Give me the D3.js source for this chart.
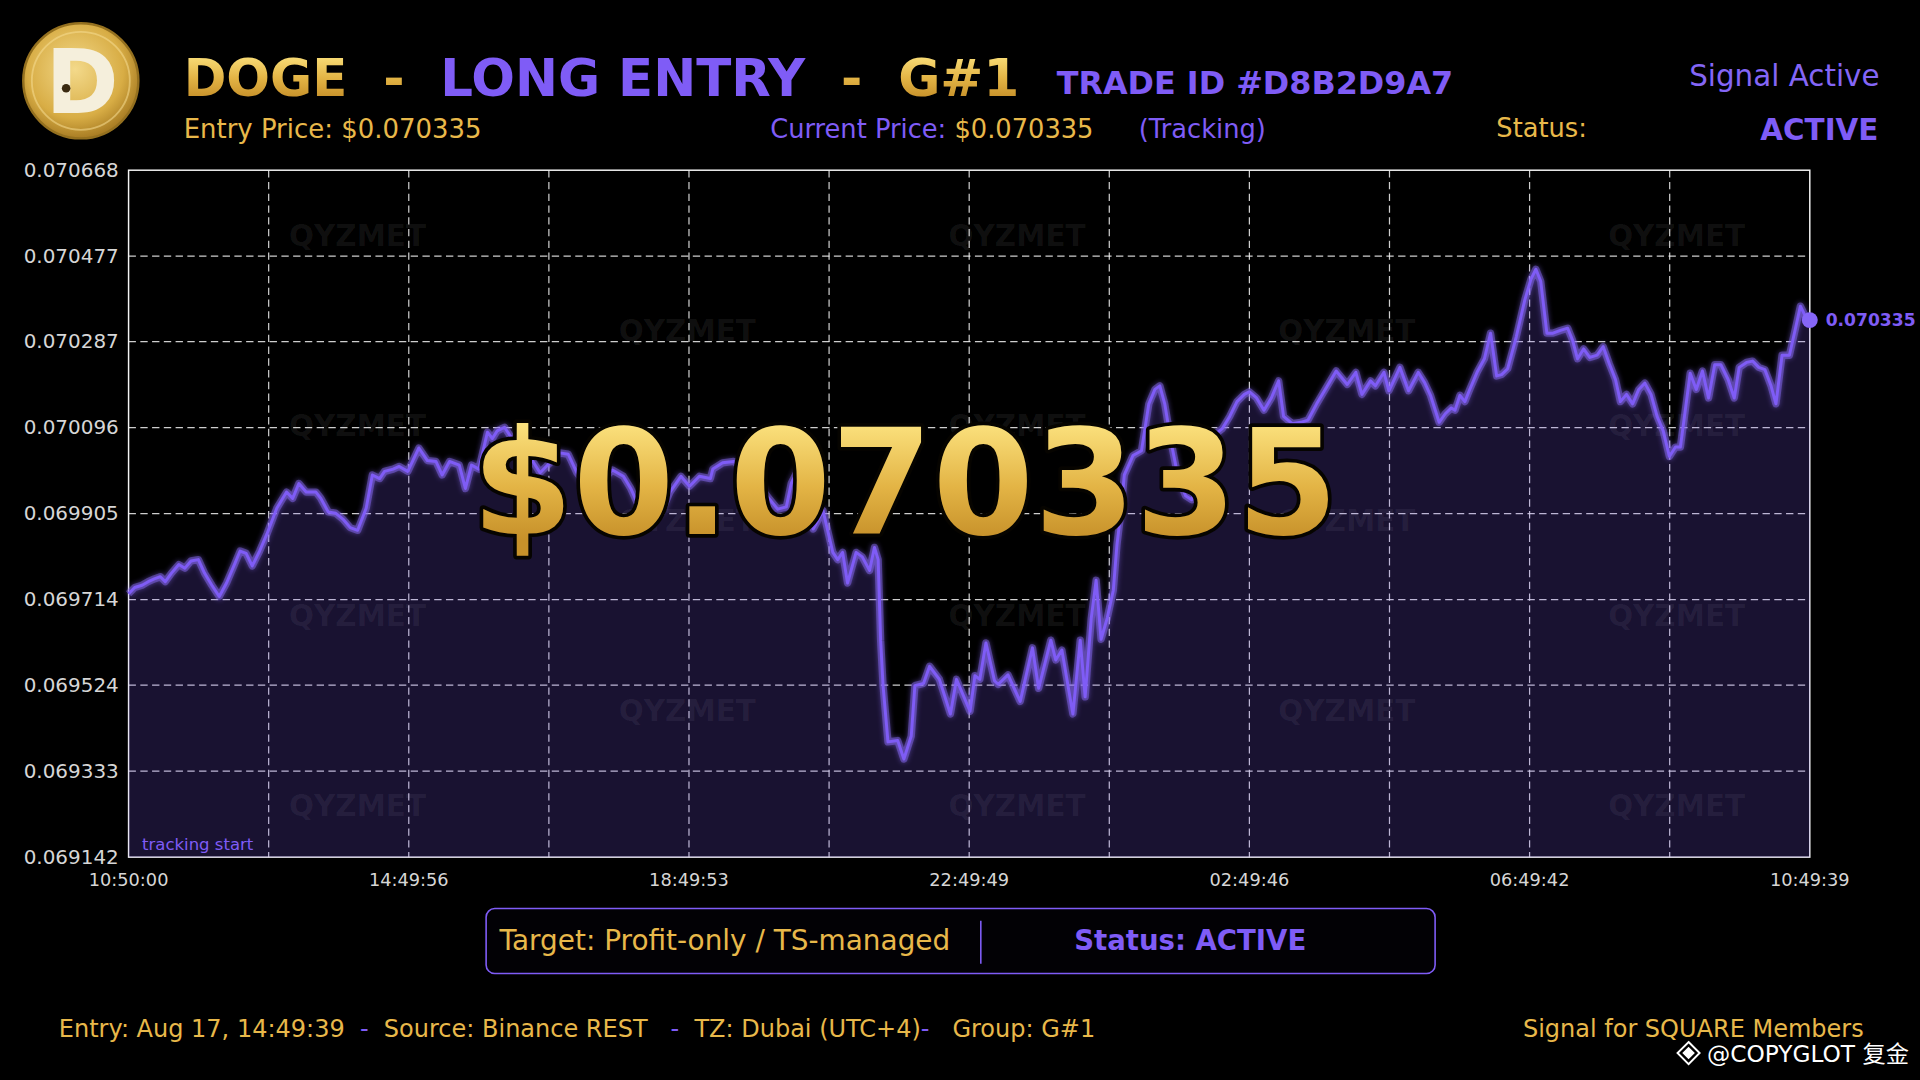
<!DOCTYPE html>
<html lang="en">
<head>
  <meta charset="UTF-8">
  <title>DOGE - LONG ENTRY - G#1</title>
  <script src="https://d3js.org/d3.v7.min.js"></script>
  <style>
    * { margin: 0; padding: 0; box-sizing: border-box; }
    body { width: 1920px; height: 1080px; background: #000; overflow: hidden; font-family: "DejaVu Sans", sans-serif; }
    text { white-space: pre; }
  </style>
</head>
<body>
  <div id="chart"></div>

  <script>
    // Price track: hours since tracking start, DOGE price in USD
    const timeHours = [
      0, 0.087, 0.192, 0.280, 0.367, 0.454, 0.524, 0.612, 0.717, 0.804,
      0.891, 0.996, 1.084, 1.189, 1.294, 1.398, 1.503, 1.591, 1.678, 1.765,
      1.870, 1.975, 2.115, 2.255, 2.342, 2.430, 2.535, 2.674, 2.744, 2.849,
      2.954, 3.059, 3.164, 3.269, 3.391, 3.479, 3.583, 3.653, 3.776, 3.863,
      3.985, 4.143, 4.265, 4.387, 4.475, 4.580, 4.720, 4.807, 4.894, 4.999,
      5.122, 5.192, 5.261, 5.366, 5.471, 5.576, 5.681, 5.751, 5.873, 6.013,
      6.153, 6.275, 6.398, 6.520, 6.660, 6.800, 6.905, 7.062, 7.167, 7.254,
      7.394, 7.516, 7.621, 7.726, 7.883, 8.006, 8.146, 8.303, 8.338, 8.478,
      8.635, 8.792, 8.950, 9.107, 9.264, 9.387, 9.457, 9.544, 9.631, 9.701,
      9.771, 9.911, 10.051, 10.121, 10.191, 10.261, 10.383, 10.471, 10.575, 10.645,
      10.698, 10.733, 10.768, 10.838, 10.977, 11.065, 11.170, 11.222, 11.345, 11.432,
      11.572, 11.729, 11.816, 12.009, 12.079, 12.149, 12.236, 12.358, 12.411, 12.551,
      12.725, 12.900, 12.988, 13.162, 13.232, 13.320, 13.477, 13.582, 13.652, 13.739,
      13.809, 13.879, 13.967, 14.054, 14.106, 14.159, 14.211, 14.334, 14.456, 14.561,
      14.648, 14.718, 14.788, 14.875, 14.980, 15.085, 15.173, 15.260, 15.382, 15.505,
      15.610, 15.715, 15.819, 15.924, 15.994, 16.099, 16.204, 16.309, 16.414, 16.484,
      16.606, 16.728, 16.833, 16.956, 17.078, 17.235, 17.393, 17.515, 17.602, 17.725,
      17.795, 17.917, 17.987, 18.144, 18.267, 18.406, 18.494, 18.581, 18.704, 18.791,
      18.878, 18.931, 19.001, 19.071, 19.141, 19.245, 19.350, 19.438, 19.525, 19.595,
      19.682, 19.805, 19.927, 20.015, 20.085, 20.154, 20.242, 20.329, 20.434, 20.539,
      20.609, 20.679, 20.766, 20.854, 20.959, 21.046, 21.133, 21.221, 21.291, 21.378,
      21.465, 21.553, 21.640, 21.728, 21.815, 21.902, 21.990, 22.077, 22.147, 22.217,
      22.287, 22.374, 22.462, 22.549, 22.637, 22.724, 22.829, 22.916, 22.986, 23.091,
      23.178, 23.266, 23.353, 23.441, 23.511, 23.598, 23.703, 23.790, 23.860, 23.930,
      23.994
    ];

    const priceValues = [
      0.069727, 0.069741, 0.069746, 0.069754, 0.069760, 0.069765, 0.069754, 0.069773, 0.069792, 0.069784,
      0.069800, 0.069803, 0.069773, 0.069746, 0.069721, 0.069751, 0.069789, 0.069822, 0.069817, 0.069789,
      0.069822, 0.069860, 0.069917, 0.069953, 0.069939, 0.069972, 0.069953, 0.069953, 0.069939, 0.069909,
      0.069906, 0.069893, 0.069874, 0.069868, 0.069917, 0.069991, 0.069983, 0.069999, 0.070004, 0.070010,
      0.069999, 0.070051, 0.070023, 0.070021, 0.069991, 0.070021, 0.070013, 0.069961, 0.070013, 0.070004,
      0.070086, 0.070072, 0.070089, 0.070097, 0.070072, 0.070045, 0.070034, 0.070026, 0.069996, 0.070018,
      0.070040, 0.070037, 0.069996, 0.069972, 0.069964, 0.069985, 0.070002, 0.069988, 0.069961, 0.069931,
      0.069909, 0.069904, 0.069915, 0.069953, 0.069988, 0.069966, 0.069988, 0.069983, 0.070004, 0.070018,
      0.070021, 0.070007, 0.069980, 0.069945, 0.069915, 0.069920, 0.069972, 0.069999, 0.069958, 0.069904,
      0.069871, 0.069912, 0.069819, 0.069803, 0.069819, 0.069751, 0.069819, 0.069809, 0.069779, 0.069830,
      0.069803, 0.069624, 0.069523, 0.069398, 0.069401, 0.069360, 0.069411, 0.069523, 0.069528, 0.069566,
      0.069537, 0.069460, 0.069537, 0.069466, 0.069545, 0.069537, 0.069618, 0.069534, 0.069526, 0.069547,
      0.069488, 0.069607, 0.069517, 0.069624, 0.069580, 0.069602, 0.069460, 0.069624, 0.069498, 0.069673,
      0.069757, 0.069626, 0.069673, 0.069735, 0.069836, 0.069904, 0.069991, 0.070034, 0.070045, 0.070149,
      0.070181, 0.070189, 0.070149, 0.070067, 0.069985, 0.069945, 0.069936, 0.069972, 0.070040, 0.070081,
      0.070094, 0.070121, 0.070154, 0.070170, 0.070176, 0.070162, 0.070135, 0.070162, 0.070200, 0.070121,
      0.070105, 0.070108, 0.070113, 0.070149, 0.070181, 0.070222, 0.070192, 0.070219, 0.070170, 0.070200,
      0.070189, 0.070219, 0.070178, 0.070230, 0.070178, 0.070219, 0.070197, 0.070168, 0.070108, 0.070127,
      0.070140, 0.070135, 0.070168, 0.070154, 0.070181, 0.070219, 0.070249, 0.070306, 0.070211, 0.070214,
      0.070227, 0.070298, 0.070380, 0.070426, 0.070448, 0.070421, 0.070306, 0.070306, 0.070312, 0.070317,
      0.070290, 0.070249, 0.070271, 0.070252, 0.070257, 0.070276, 0.070238, 0.070203, 0.070154, 0.070170,
      0.070149, 0.070181, 0.070195, 0.070170, 0.070121, 0.070089, 0.070032, 0.070053, 0.070053, 0.070135,
      0.070217, 0.070181, 0.070222, 0.070162, 0.070236, 0.070236, 0.070203, 0.070162, 0.070230, 0.070241,
      0.070244, 0.070230, 0.070225, 0.070189, 0.070149, 0.070257, 0.070257, 0.070317, 0.070366, 0.070344,
      0.070335
    ];

    // Axis ticks
    const yTickValues = [0.069142, 0.069333, 0.069524, 0.069714, 0.069905, 0.070096, 0.070287, 0.070477, 0.070668];
    const yTickLabels = ['0.069142', '0.069333', '0.069524', '0.069714', '0.069905', '0.070096', '0.070287', '0.070477', '0.070668'];
    const xTickHours = [0, 3.999, 7.998, 11.997, 15.996, 19.995, 23.994];
    const xTickLabels = ['10:50:00', '14:49:56', '18:49:53', '22:49:49', '02:49:46', '06:49:42', '10:49:39'];

    const currentPrice = '$0.070335';
    const lastLabel = '0.070335';

    // Layout is drawn in a 1568x882 frame and scaled up to the window
    const W = 1568, H = 882;
    const plot = { left: 105, right: 1478, top: 139, bottom: 700 };

    const gold = '#e8b84a';
    const purple = '#7f5cf6';
    const fontMain = '"DejaVu Sans", "Noto Sans CJK SC", sans-serif';

    const svg = d3.select('#chart')
      .append('svg')
      .attr('width', 1920)
      .attr('height', 1080)
      .attr('viewBox', `0 0 ${W} ${H}`)
      .style('font-family', fontMain);

    svg.append('rect').attr('width', W).attr('height', H).attr('fill', '#000');

    // Gradients and filters
    const defs = svg.append('defs');

    function goldGradient(id, y1, y2) {
      const g = defs.append('linearGradient').attr('id', id)
        .attr('gradientUnits', 'userSpaceOnUse')
        .attr('x1', 0).attr('x2', 0).attr('y1', y1).attr('y2', y2);
      g.append('stop').attr('offset', '0%').attr('stop-color', '#fbe17d');
      g.append('stop').attr('offset', '55%').attr('stop-color', '#e3b445');
      g.append('stop').attr('offset', '100%').attr('stop-color', '#c7912a');
    }
    goldGradient('titleGold', 44, 80);
    goldGradient('bigGold', 346, 440);

    const coin = defs.append('radialGradient').attr('id', 'coinGrad')
      .attr('cx', '45%').attr('cy', '40%').attr('r', '60%');
    coin.append('stop').attr('offset', '0%').attr('stop-color', '#f3d98a');
    coin.append('stop').attr('offset', '70%').attr('stop-color', '#d8ad45');
    coin.append('stop').attr('offset', '100%').attr('stop-color', '#a97d24');

    const glow = defs.append('filter').attr('id', 'glow')
      .attr('x', '-5%').attr('y', '-20%').attr('width', '110%').attr('height', '140%');
    glow.append('feGaussianBlur').attr('stdDeviation', 2.2).attr('result', 'blur');
    const merge = glow.append('feMerge');
    merge.append('feMergeNode').attr('in', 'blur');
    merge.append('feMergeNode').attr('in', 'SourceGraphic');

    // Scales
    const x = d3.scaleLinear().domain([0, 23.994]).range([plot.left, plot.right]);
    const y = d3.scaleLinear().domain([0.069142, 0.070668]).range([plot.bottom, plot.top]);

    const data = d3.zip(timeHours, priceValues).map(([h, p]) => ({ h, p }));

    // Watermarks
    const wm = svg.append('g')
      .attr('font-weight', 'bold')
      .attr('font-size', 24)
      .attr('fill', '#fff')
      .attr('fill-opacity', 0.07)
      .attr('text-anchor', 'middle');
    for (let r = 0; r < 7; r++) {
      for (let c = 0; c < 5; c++) {
        if ((r + c) % 2 !== 0) continue;
        wm.append('text')
          .attr('x', 292 + c * 269.3)
          .attr('y', 192 + r * 77.5 + 9)
          .text('QYZMET');
      }
    }

    // Grid
    const grid = svg.append('g')
      .attr('stroke', '#f2f2f2')
      .attr('stroke-opacity', 0.85)
      .attr('stroke-width', 1)
      .attr('stroke-dasharray', '6,3.6');

    grid.selectAll('line.h')
      .data(yTickValues.slice(1, -1))
      .enter().append('line')
      .attr('x1', plot.left).attr('x2', plot.right)
      .attr('y1', d => y(d)).attr('y2', d => y(d));

    const span = x.domain()[1];
    grid.selectAll('line.v')
      .data(d3.range(1, 12).map(i => i * span / 12))
      .enter().append('line')
      .attr('y1', plot.top).attr('y2', plot.bottom)
      .attr('x1', d => x(d)).attr('x2', d => x(d));

    // Frame
    svg.append('rect')
      .attr('x', plot.left).attr('y', plot.top)
      .attr('width', plot.right - plot.left).attr('height', plot.bottom - plot.top)
      .attr('fill', 'none').attr('stroke', '#f4f4f4').attr('stroke-width', 1.2);

    // Area under the price
    const area = d3.area()
      .x(d => x(d.h))
      .y0(plot.bottom)
      .y1(d => y(d.p));

    svg.append('path')
      .datum(data)
      .attr('d', area)
      .attr('fill', '#7c5cf4')
      .attr('fill-opacity', 0.2);

    // Price line with glow
    const line = d3.line().x(d => x(d.h)).y(d => y(d.p));

    svg.append('path')
      .datum(data)
      .attr('d', line)
      .attr('fill', 'none')
      .attr('stroke', '#8a6af8')
      .attr('stroke-opacity', 0.45)
      .attr('stroke-width', 6)
      .attr('stroke-linejoin', 'round')
      .attr('filter', 'url(#glow)');

    svg.append('path')
      .datum(data)
      .attr('d', line)
      .attr('fill', 'none')
      .attr('stroke', purple)
      .attr('stroke-width', 2.4)
      .attr('stroke-linejoin', 'round');

    // Last point marker
    const last = data[data.length - 1];
    svg.append('circle')
      .attr('cx', x(last.h)).attr('cy', y(last.p)).attr('r', 6.5)
      .attr('fill', '#8666f7');
    svg.append('text')
      .attr('x', x(last.h) + 13).attr('y', y(last.p) + 4.5)
      .attr('font-size', 14).attr('font-weight', 'bold')
      .attr('fill', purple)
      .text(lastLabel);

    // Axis labels
    svg.append('g').selectAll('text')
      .data(yTickValues)
      .enter().append('text')
      .attr('x', plot.left - 8)
      .attr('y', d => y(d) + 5.5)
      .attr('text-anchor', 'end')
      .attr('font-size', 16.3)
      .attr('fill', '#d6d6d6')
      .text((d, i) => yTickLabels[i]);

    svg.append('g').selectAll('text')
      .data(xTickHours)
      .enter().append('text')
      .attr('x', d => x(d))
      .attr('y', plot.bottom + 23.5)
      .attr('text-anchor', 'middle')
      .attr('font-size', 14.5)
      .attr('fill', '#d6d6d6')
      .text((d, i) => xTickLabels[i]);

    svg.append('text')
      .attr('x', plot.left + 11).attr('y', plot.bottom - 6)
      .attr('font-size', 13.5)
      .attr('fill', purple)
      .text('tracking start');

    // Big current price
    svg.append('text')
      .attr('x', 739).attr('y', 436)
      .attr('text-anchor', 'middle')
      .attr('font-size', 119)
      .attr('font-weight', 'bold')
      .attr('fill', 'url(#bigGold)')
      .attr('stroke', '#060400')
      .attr('stroke-width', 6)
      .attr('stroke-linejoin', 'round')
      .attr('paint-order', 'stroke')
      .text(currentPrice);

    // Logo
    const logo = svg.append('g').attr('transform', 'translate(66,66)');
    logo.append('circle').attr('r', 47).attr('fill', 'url(#coinGrad)')
      .attr('stroke', '#94701f').attr('stroke-width', 2);
    logo.append('circle').attr('r', 40).attr('fill', 'none')
      .attr('stroke', '#f6dd92').attr('stroke-opacity', 0.55).attr('stroke-width', 1.5);
    logo.append('text')
      .attr('x', 1).attr('y', 26)
      .attr('text-anchor', 'middle')
      .attr('font-size', 72).attr('font-weight', 'bold')
      .attr('fill', '#f5efdc')
      .text('D');
    logo.append('circle').attr('cx', -12).attr('cy', 6).attr('r', 3.5).attr('fill', '#3a2a10');

    // Title line
    const title = svg.append('text')
      .attr('x', 150).attr('y', 78)
      .attr('font-size', 42).attr('font-weight', 'bold');
    title.append('tspan').attr('fill', 'url(#titleGold)').text('DOGE  -  ');
    title.append('tspan').attr('fill', purple).text('LONG ENTRY');
    title.append('tspan').attr('fill', 'url(#titleGold)').text('  -  G#1');

    svg.append('text')
      .attr('x', 863).attr('y', 77)
      .attr('font-size', 26).attr('font-weight', 'bold')
      .attr('fill', purple)
      .text('TRADE ID #D8B2D9A7');

    svg.append('text')
      .attr('x', 1535).attr('y', 70)
      .attr('text-anchor', 'end')
      .attr('font-size', 24)
      .attr('fill', '#8466f6')
      .text('Signal Active');

    // Second header line
    svg.append('text')
      .attr('x', 150).attr('y', 113)
      .attr('font-size', 21.2).attr('fill', gold)
      .text('Entry Price: ' + currentPrice);

    const cur = svg.append('text')
      .attr('x', 629).attr('y', 113)
      .attr('font-size', 21);
    cur.append('tspan').attr('fill', purple).text('Current Price: ');
    cur.append('tspan').attr('fill', gold).text(currentPrice);

    svg.append('text')
      .attr('x', 930).attr('y', 113)
      .attr('font-size', 21).attr('fill', purple)
      .text('(Tracking)');

    svg.append('text')
      .attr('x', 1222).attr('y', 112)
      .attr('font-size', 21).attr('fill', gold)
      .text('Status:');

    svg.append('text')
      .attr('x', 1534).attr('y', 114)
      .attr('text-anchor', 'end')
      .attr('font-size', 24).attr('font-weight', 'bold')
      .attr('fill', purple)
      .text('ACTIVE');

    // Target / status box
    svg.append('rect')
      .attr('x', 397).attr('y', 742).attr('width', 775).attr('height', 53).attr('rx', 7)
      .attr('fill', '#020105').attr('stroke', purple).attr('stroke-width', 1.3);
    svg.append('line')
      .attr('x1', 801).attr('x2', 801).attr('y1', 752).attr('y2', 787)
      .attr('stroke', purple).attr('stroke-width', 1.3);
    svg.append('text')
      .attr('x', 408).attr('y', 776)
      .attr('font-size', 22.8).attr('fill', gold)
      .text('Target: Profit-only / TS-managed');
    svg.append('text')
      .attr('x', 972).attr('y', 776)
      .attr('text-anchor', 'middle')
      .attr('font-size', 22.5).attr('font-weight', 'bold')
      .attr('fill', purple)
      .text('Status: ACTIVE');

    // Footer
    const foot = svg.append('text')
      .attr('x', 48).attr('y', 847)
      .attr('font-size', 19.6);
    [
      ['Entry: Aug 17, 14:49:39', gold], ['  -  ', purple],
      ['Source: Binance REST', gold], ['   -  ', purple],
      ['TZ: Dubai (UTC+4)', gold], ['-   ', purple],
      ['Group: G#1', gold]
    ].forEach(([t, c]) => foot.append('tspan').attr('fill', c).text(t));

    svg.append('text')
      .attr('x', 1522).attr('y', 847)
      .attr('text-anchor', 'end')
      .attr('font-size', 19.6).attr('fill', gold)
      .text('Signal for SQUARE Members');

    // Platform mark
    const mark = svg.append('g').attr('transform', 'translate(1379,860)')
      .attr('fill', 'none').attr('stroke', '#fff').attr('stroke-width', 1.6);
    mark.append('path').attr('d', 'M0,-9 L9,0 L0,9 L-9,0 Z');
    mark.append('path').attr('d', 'M0,-4 L4,0 L0,4 L-4,0 Z').attr('fill', '#fff');
    svg.append('text')
      .attr('x', 1394).attr('y', 867)
      .attr('font-size', 19).attr('fill', '#fff')
      .text('@COPYGLOT 复金');
  </script>
</body>
</html>
